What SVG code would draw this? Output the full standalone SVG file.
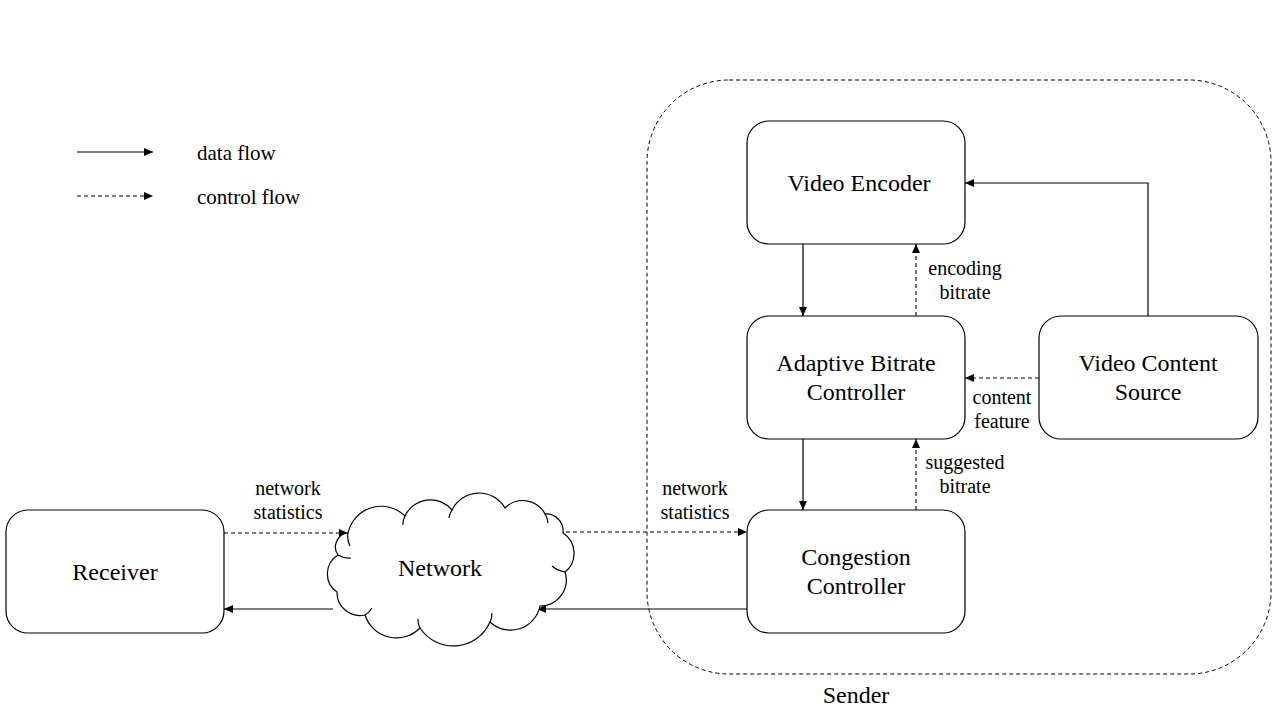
<svg xmlns="http://www.w3.org/2000/svg" width="1280" height="720" viewBox="0 0 1280 720">
<style>
.node{fill:#fff;stroke:#000;stroke-width:1.2}
text{font-family:'Liberation Serif','DejaVu Serif',serif;fill:#000;text-anchor:middle}
.t{font-size:24px}
.l{font-size:20px}
.g{font-size:21px;text-anchor:start}
.s{fill:none;stroke:#000;stroke-width:1.2}
.d{fill:none;stroke:#000;stroke-width:1.1;stroke-dasharray:4 3}
</style>
<defs>
<marker id="ah" markerUnits="userSpaceOnUse" markerWidth="10" markerHeight="8" refX="9" refY="4" orient="auto">
<path d="M0,0 L9,4 L0,8 Z" fill="#000"/>
</marker>
</defs>
<rect width="1280" height="720" fill="#fff"/>
<g id="sender">
<rect x="647" y="80" width="624" height="594" rx="82" ry="82" fill="none" stroke="#000" stroke-width="1" stroke-dasharray="4 3"/>
<text class="t" x="856" y="703">Sender</text>
</g>
<g id="legend">
<line class="s" x1="77" y1="152" x2="153" y2="152" marker-end="url(#ah)"/>
<text class="g" x="197" y="160">data flow</text>
<line class="d" x1="77" y1="196" x2="153" y2="196" marker-end="url(#ah)"/>
<text class="g" x="197" y="204">control flow</text>
</g>
<g id="connectors">
<line class="s" x1="803" y1="244" x2="803" y2="316" marker-end="url(#ah)"/>
<line class="d" x1="916" y1="316" x2="916" y2="244" marker-end="url(#ah)"/>
<polyline class="s" points="1148,316 1148,183 965,183" marker-end="url(#ah)"/>
<line class="d" x1="1039" y1="378" x2="965" y2="378" marker-end="url(#ah)"/>
<line class="s" x1="803" y1="439" x2="803" y2="510" marker-end="url(#ah)"/>
<line class="d" x1="916" y1="510" x2="916" y2="439" marker-end="url(#ah)"/>
<line class="d" x1="566" y1="532" x2="747" y2="532" marker-end="url(#ah)"/>
<line class="s" x1="747" y1="609" x2="537" y2="609" marker-end="url(#ah)"/>
<line class="d" x1="224" y1="533" x2="348" y2="533" marker-end="url(#ah)"/>
<line class="s" x1="333" y1="609" x2="224" y2="609" marker-end="url(#ah)"/>
<text class="l" x="965" y="275">encoding</text>
<text class="l" x="965" y="299">bitrate</text>
<text class="l" x="1002" y="404">content</text>
<text class="l" x="1002" y="428">feature</text>
<text class="l" x="965" y="469">suggested</text>
<text class="l" x="965" y="493">bitrate</text>
<text class="l" x="695" y="495">network</text>
<text class="l" x="695" y="519">statistics</text>
<text class="l" x="288" y="495">network</text>
<text class="l" x="288" y="519">statistics</text>
</g>
<g id="video-encoder">
<rect class="node" x="747" y="121" width="218" height="123" rx="22"/>
<text class="t" x="859" y="191">Video Encoder</text>
</g>
<g id="abc">
<rect class="node" x="747" y="316" width="218" height="123" rx="22"/>
<text class="t" x="856" y="371">Adaptive Bitrate</text>
<text class="t" x="856" y="400">Controller</text>
</g>
<g id="congestion">
<rect class="node" x="747" y="510" width="218" height="123" rx="22"/>
<text class="t" x="856" y="565">Congestion</text>
<text class="t" x="856" y="594">Controller</text>
</g>
<g id="video-source">
<rect class="node" x="1039" y="316" width="219" height="123" rx="22"/>
<text class="t" x="1148" y="371">Video Content</text>
<text class="t" x="1148" y="400">Source</text>
</g>
<g id="receiver">
<rect class="node" x="6" y="510" width="218" height="123" rx="22"/>
<text class="t" x="115" y="580">Receiver</text>
</g>
<g id="network">
<path class="node" d="M348 533 A34 34 0 0 1 405 516 A28 28 0 0 1 452 510 A30 30 0 0 1 505 508 A25 25 0 0 1 545 514 A17 17 0 0 1 563 533 A24 24 0 0 1 565 572 A26 26 0 0 1 540 606 A30 30 0 0 1 490 622 A40 40 0 0 1 420 628 A33 33 0 0 1 365 615 A23 23 0 0 1 337 592 A22 22 0 0 1 338 555 A14 14 0 0 1 348 533 Z"/>
<path class="s" d="M348 533 A20 20 0 0 0 350 546 M405 516 A20 18 0 0 0 403 525 M452 510 A18 18 0 0 0 449 518 M545 514 A18 18 0 0 1 548 523 M565 572 A24 22 0 0 1 552 566 M490 622 A20 20 0 0 0 492 613 M420 628 A24 20 0 0 1 418 619 M365 615 A20 20 0 0 0 372 608 M338 555 A20 18 0 0 0 351 558"/>
<text class="t" x="440" y="576">Network</text>
</g>
</svg>
